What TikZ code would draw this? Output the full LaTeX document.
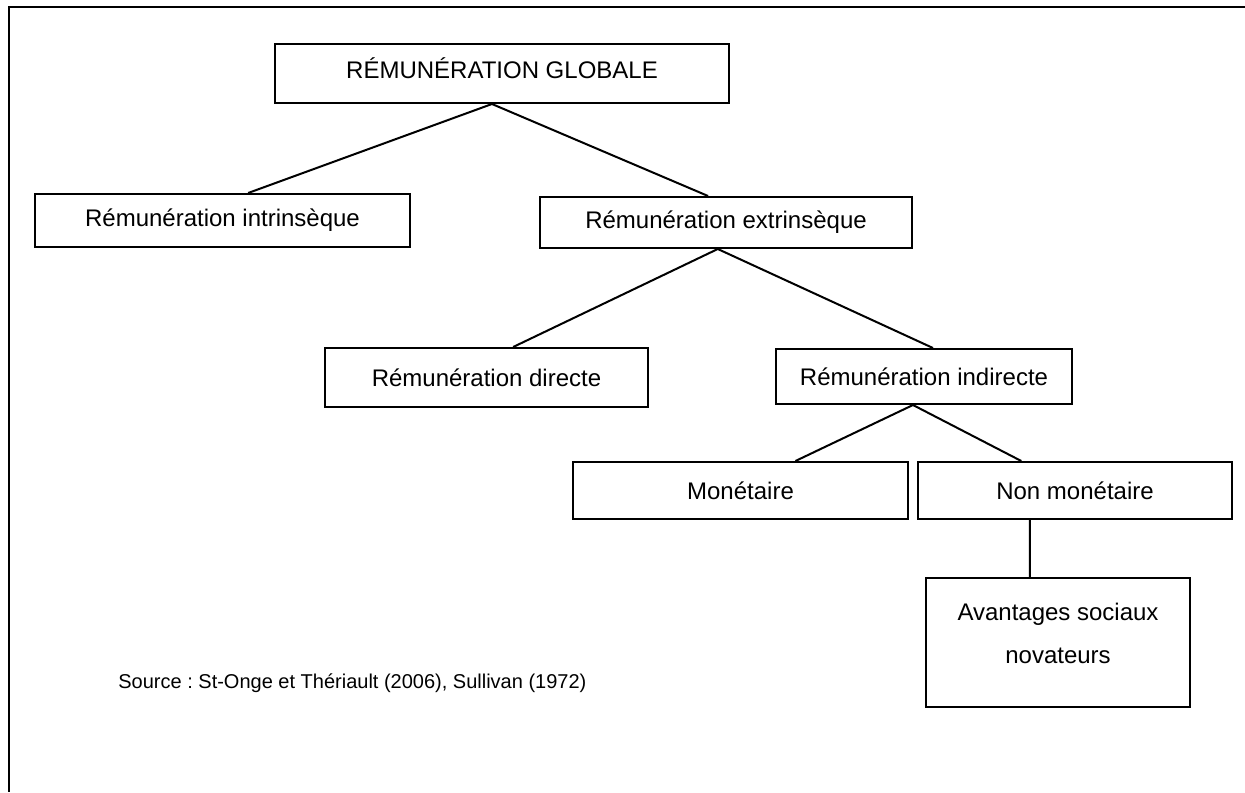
\documentclass[tikz,border=0pt]{standalone}
\usepackage{fontspec}
\setmainfont{Liberation Sans}
\usetikzlibrary{calc}
\frenchspacing

\newcommand\remtextstyle{\fontsize{12}{21.5}\selectfont}
\newcommand\remsourcestyle{\fontsize{10}{12}\selectfont}
% texte remonte dans sa boite, sans changer sa taille
\newcommand\remup[2]{\raisebox{#1}[\height][\depth]{#2}}
\tikzset{
  rembox/.style={draw, rectangle, line width=1pt, inner sep=0pt, font=\remtextstyle},
  remline/.style={line width=1pt},
}
% lien entre le bas d'une boite et le haut d'une autre
\newcommand\remlink[4]{
  \draw[remline] ($(#1.south west)!#2!(#1.south east)$) -- ($(#3.north west)!#4!(#3.north east)$) ;
}

\begin{document}
\begin{tikzpicture}[x=.5pt, y=-.5pt]
  \useasboundingbox (0, 0) rectangle (1245, 792) ;
  % cadre
  \coordinate (cadrehd) at (1245, 7) ;
  \coordinate (cadrehg) at (9, 7) ;
  \coordinate (cadrebg) at (9, 792) ;
  \draw[remline] (cadrehd) -- (cadrehg) -- (cadrebg) ;

  % boites
  \node[rembox, minimum width=227pt, minimum height=29.5pt] (glob) at (502, 73.5) {\remup{2.5pt}{RÉMUNÉRATION GLOBALE}} ;
  \node[rembox, minimum width=187.5pt, minimum height=26.5pt] (intr) at (222.5, 220.5) {Rémunération intrinsèque} ;
  \node[rembox, minimum width=186pt, minimum height=25.5pt] (extr) at (726, 222.5) {Rémunération extrinsèque} ;
  \node[rembox, minimum width=161.5pt, minimum height=29.5pt] (dir) at (486.5, 377.5) {Rémunération directe} ;
  \node[rembox, minimum width=148pt, minimum height=27.5pt] (indir) at (924, 376.5) {Rémunération indirecte} ;
  \node[rembox, minimum width=167.5pt, minimum height=28.5pt] (mon) at (740.5, 490.5) {Monétaire} ;
  \node[rembox, minimum width=157pt, minimum height=28.5pt] (nonmon) at (1075, 490.5) {Non monétaire} ;
  \node[rembox, minimum width=132pt, minimum height=64.5pt] (avant) at (1058, 642.5)
    {\remup{4.5pt}{\begin{tabular}{@{}c@{}}Avantages sociaux\\novateurs\end{tabular}}} ;

  % liens
  \remlink{glob}{.478}{intr}{.568}
  \remlink{glob}{.478}{extr}{.452}
  \remlink{extr}{.478}{dir}{.582}
  \remlink{extr}{.478}{indir}{.53}
  \remlink{indir}{.463}{mon}{.663}
  \remlink{indir}{.463}{nonmon}{.33}
  \remlink{nonmon}{.357}{avant}{.394}

  \node[anchor=west, inner sep=0pt, font=\remsourcestyle] (source) at (118, 683) {Source : St-Onge et Thériault (2006), Sullivan (1972)} ;
\end{tikzpicture}
\end{document}
